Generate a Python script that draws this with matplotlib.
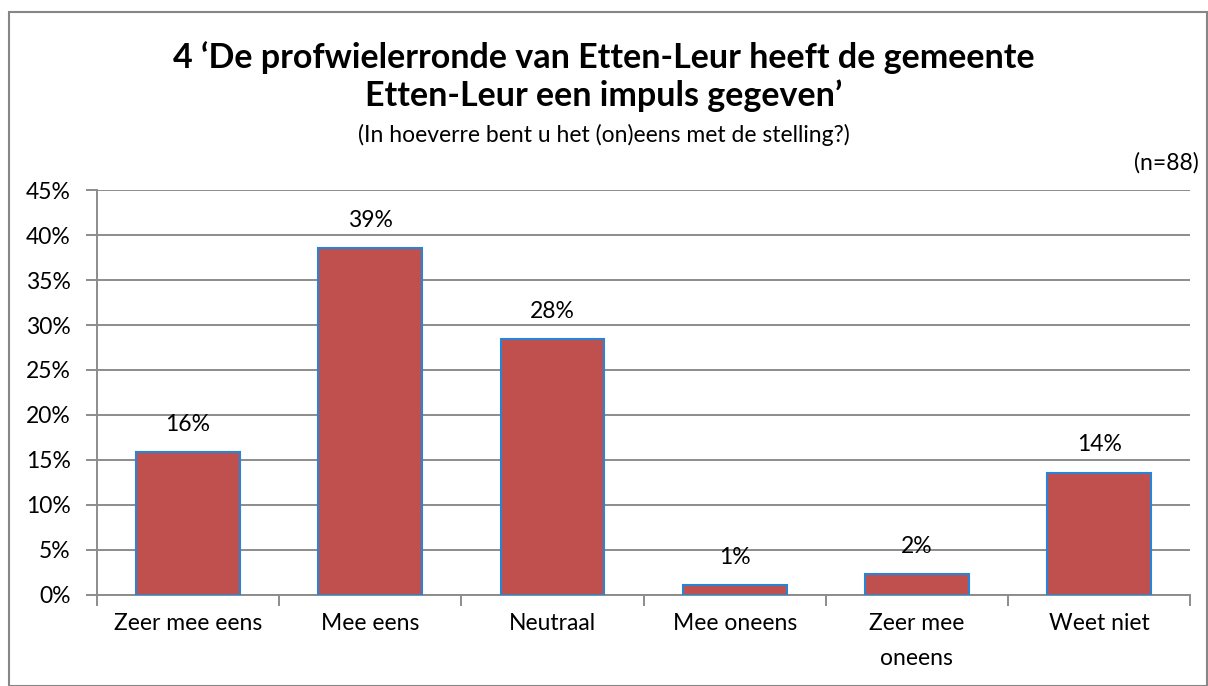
import matplotlib.pyplot as plt
from matplotlib.patches import Rectangle
from matplotlib.ticker import FuncFormatter

plt.rcParams['font.family'] = ['Lato', 'DejaVu Sans']

categories = ["Zeer mee eens", "Mee eens", "Neutraal", "Mee oneens", "Zeer mee\noneens", "Weet niet"]
values = [15.9, 38.6, 28.4, 1.1, 2.3, 13.6]
labels = ["16%", "39%", "28%", "1%", "2%", "14%"]

fig = plt.figure(figsize=(12.08, 6.86), dpi=100)
ax = fig.add_axes([0.0803, 0.1327, 0.905, 0.5903])

x = range(len(categories))
bars = ax.bar(x, values, width=0.57, color="#C0504D", edgecolor="#2784D8", linewidth=1.5, zorder=3)
for b, lab in zip(bars, labels):
    ax.text(b.get_x() + b.get_width() / 2, b.get_height() + 1.9, lab,
            ha="center", va="bottom", fontsize=16.5)

ax.set_xlim(-0.5, len(categories) - 0.5)
ax.set_ylim(0, 45)
ax.set_yticks(range(0, 46, 5))
ax.yaxis.set_major_formatter(FuncFormatter(lambda v, p: f"{int(v)}%"))
ax.grid(axis="y", color="#8C8C8C", linewidth=1.4, zorder=0)
ax.set_xticks(list(x))
ax.set_xticklabels(categories, fontsize=16.5, linespacing=1.8)
ax.set_xticks([i + 0.5 for i in range(-1, len(categories))], minor=True)
ax.tick_params(axis="x", which="major", length=0, pad=13)
ax.tick_params(axis="x", which="minor", length=8, width=1.4, color="#8C8C8C")
ax.tick_params(axis="y", length=8, width=1.4, color="#8C8C8C", labelsize=16.5, pad=11)
for s in ["top", "right"]:
    ax.spines[s].set_visible(False)
for s in ["left", "bottom"]:
    ax.spines[s].set_color("#8C8C8C")
    ax.spines[s].set_linewidth(1.4)

fig.text(0.5, 0.888, "4 \u2018De profwielerronde van Etten-Leur heeft de gemeente\nEtten-Leur een impuls gegeven\u2019",
         ha="center", va="center", fontsize=24.5, fontweight="bold", linespacing=1.2)
fig.text(0.5, 0.803, "(In hoeverre bent u het (on)eens met de stelling?)", ha="center", va="center", fontsize=16.5)
fig.text(0.992, 0.762, "(n=88)", ha="right", va="center", fontsize=16.5)

fig.add_artist(Rectangle((9 / 1208, 0), 1 - 10 / 1208, 1 - 12 / 686, transform=fig.transFigure,
                         fill=False, edgecolor="#868686", linewidth=1.5))

fig.savefig("out.png", dpi=100)
